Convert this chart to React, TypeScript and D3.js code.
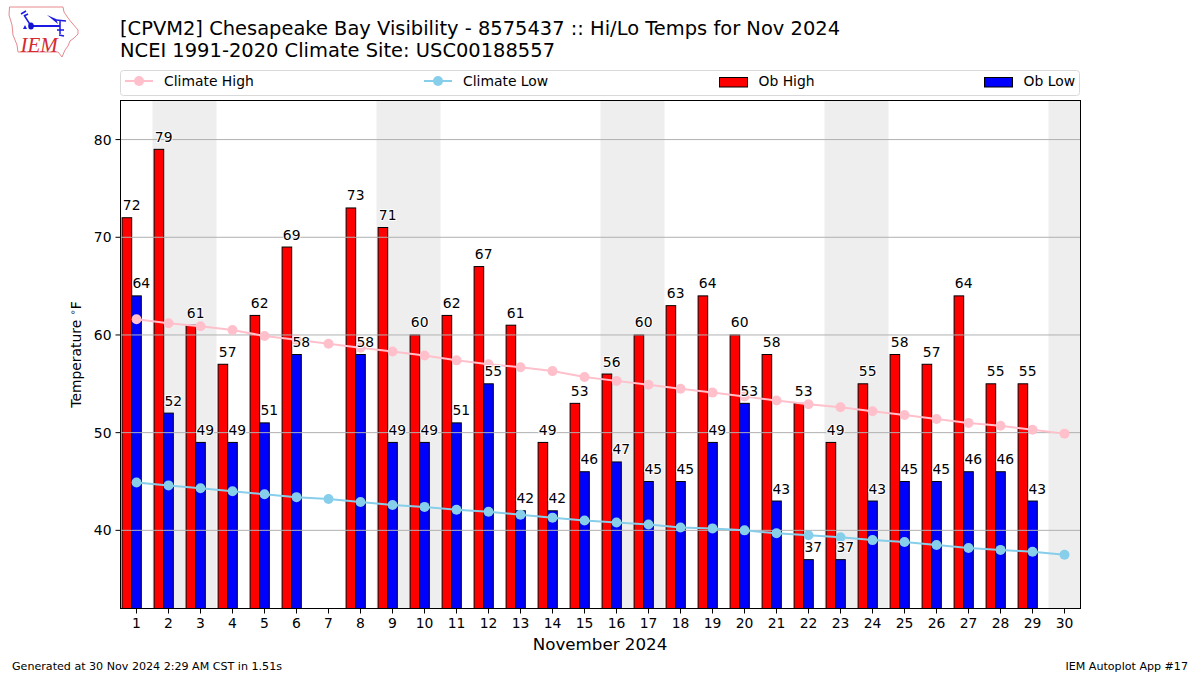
import React from "react";
import * as d3 from "d3";

const days = d3.range(1, 31);
const obHigh: (number | null)[] = [72, 79, 61, 57, 62, 69, null, 73, 71, 60, 62, 67, 61, 49, 53, 56, 60, 63, 64, 60, 58, 53, 49, 55, 58, 57, 64, 55, 55, null];
const obLow: (number | null)[] = [64, 52, 49, 49, 51, 58, null, 58, 49, 49, 51, 55, 42, 42, 46, 47, 45, 45, 49, 53, 43, 37, 37, 43, 45, 45, 46, 46, 43, null];
const climateHigh = [61.6, 61.2, 60.9, 60.5, 59.9, 59.5, 59.1, 58.7, 58.3, 57.9, 57.4, 57.0, 56.7, 56.3, 55.7, 55.3, 54.9, 54.5, 54.1, 53.7, 53.3, 52.9, 52.6, 52.2, 51.8, 51.4, 51.0, 50.7, 50.3, 49.9];
const climateLow = [44.9, 44.6, 44.3, 44.0, 43.7, 43.4, 43.2, 42.9, 42.6, 42.4, 42.1, 41.9, 41.6, 41.3, 41.0, 40.8, 40.6, 40.3, 40.2, 40.0, 39.7, 39.5, 39.3, 39.0, 38.8, 38.5, 38.2, 38.0, 37.8, 37.5];
const weekends: [number, number][] = [[1.5, 3.5], [8.5, 10.5], [15.5, 17.5], [22.5, 24.5], [29.5, 30.5]];
const yTicks = [40, 50, 60, 70, 80];
const titleLines = ["[CPVM2] Chesapeake Bay Visibility - 8575437 :: Hi/Lo Temps for Nov 2024", "NCEI 1991-2020 Climate Site: USC00188557"];

const FONT = "'DejaVu Sans', sans-serif";
const L = 120.5, R = 1080.5, T = 100.5, B = 608.5;
const x = d3.scaleLinear().domain([0.5, 30.5]).range([L, R]);
const y = d3.scaleLinear().domain([32, 84]).range([B, T]);
const W = x(1.3) - x(1);

const lineGen = d3.line<number>().x((_, i) => x(days[i])).y((d) => y(d));

function Bars({ vals, color, off }: { vals: (number | null)[]; color: string; off: number }) {
  return (
    <g>
      {vals.map((v, i) =>
        v == null ? null : (
          <rect key={i} x={x(days[i] + off) - W / 2} y={y(v)} width={W} height={B - y(v)} fill={color} stroke="#000" strokeWidth={1} />
        )
      )}
    </g>
  );
}

function Labels({ vals, off }: { vals: (number | null)[]; off: number }) {
  return (
    <g fontSize={13.9} fill="#000" textAnchor="middle" style={{ paintOrder: "stroke" }} stroke="#fff" strokeWidth={2} strokeLinejoin="round">
      {vals.map((v, i) =>
        v == null ? null : (
          <text key={i} x={x(days[i] + off)} y={y(v) - 7.5}>{v}</text>
        )
      )}
    </g>
  );
}

function Climate({ vals, color }: { vals: number[]; color: string }) {
  return (
    <g>
      <path d={lineGen(vals) || ""} fill="none" stroke={color} strokeWidth={2} />
      {vals.map((v, i) => (
        <circle key={i} cx={x(days[i])} cy={y(v)} r={5} fill={color} />
      ))}
    </g>
  );
}

function Logo() {
  return (
    <g>
      <path d="M9.5,7 L63,7 L64,12 L68,18 L72,23 L78,30 L78,34 L74,38 L70,41 L68,46 L65,50 L62,57 L58,52 L18,52 L17,45 L13,35 L12,25 L9,15 Z" fill="#fff" stroke="#e58a8f" strokeWidth={1} />
      <g stroke="#1a1ae0" fill="none" strokeWidth={1.5}>
        <path d="M31,26 L60,26" strokeWidth={2} />
        <path d="M31,26 L24,15 M21,14 L26,11 M24,16 L28,14" />
        <path d="M66,21 L56,20 M60,21 L60,34 M57,30 L64,30 M59,35 L64,36" />
      </g>
      <path d="M47,15 L56,19 L58,24 Z" fill="#1a1ae0" />
      <ellipse cx={31} cy={26} rx={2.8} ry={3.5} fill="#1212d0" />
      <path d="M23,29 L25,25 L27,29 Z" fill="#1a1ae0" />
      <text x={20.5} y={52} fontFamily="'Liberation Serif', serif" fontStyle="italic" fontSize={21} fill="#d42a30">IEM</text>
    </g>
  );
}

function LegendLine({ lx, color, label }: { lx: number; color: string; label: string }) {
  return (
    <g>
      <line x1={lx} x2={lx + 28} y1={81} y2={81} stroke={color} strokeWidth={2} />
      <circle cx={lx + 14} cy={81} r={5} fill={color} />
      <text x={lx + 39} y={86} fontSize={13.9} fill="#000">{label}</text>
    </g>
  );
}

function LegendBar({ lx, color, label }: { lx: number; color: string; label: string }) {
  return (
    <g>
      <rect x={lx} y={77.5} width={28} height={9.5} fill={color} stroke="#000" strokeWidth={1} />
      <text x={lx + 39} y={86} fontSize={13.9} fill="#000">{label}</text>
    </g>
  );
}

export default function App() {
  return (
    <svg width={1200} height={675} viewBox="0 0 1200 675" fontFamily={FONT} style={{ position: "absolute", left: 0, top: 0, background: "#fff" }}>
      <Logo />
      {titleLines.map((t, i) => (
        <text key={i} x={120} y={35 + i * 22} fontSize={19.45} textLength={i === 0 ? 720 : 435} lengthAdjust="spacing" fill="#000">{t}</text>
      ))}

      <rect x={120.5} y={70.5} width={959} height={25} rx={3} fill="#fff" stroke="#d9d9d9" strokeWidth={1} />
      <LegendLine lx={125} color="pink" label="Climate High" />
      <LegendLine lx={424} color="skyblue" label="Climate Low" />
      <LegendBar lx={719.5} color="#f00" label="Ob High" />
      <LegendBar lx={984.5} color="#00f" label="Ob Low" />

      {weekends.map(([a, b], i) => (
        <rect key={i} x={x(a)} y={T} width={x(b) - x(a)} height={B - T} fill="#eee" />
      ))}
      <Bars vals={obHigh} color="#f00" off={-0.3} />
      <Bars vals={obLow} color="#00f" off={0} />
      {yTicks.map((t) => (
        <line key={t} x1={L} x2={R} y1={y(t)} y2={y(t)} stroke="#b0b0b0" strokeWidth={1} />
      ))}
      <Climate vals={climateHigh} color="pink" />
      <Climate vals={climateLow} color="skyblue" />
      <Labels vals={obHigh} off={-0.15} />
      <Labels vals={obLow} off={0.15} />

      <rect x={L} y={T} width={R - L} height={B - T} fill="none" stroke="#000" strokeWidth={1} />
      {yTicks.map((t) => (
        <g key={t}>
          <line x1={L - 5} x2={L} y1={y(t)} y2={y(t)} stroke="#000" />
          <text x={L - 9} y={y(t) + 5} textAnchor="end" fontSize={13.9}>{t}</text>
        </g>
      ))}
      {days.map((d) => (
        <g key={d}>
          <line x1={x(d)} x2={x(d)} y1={B} y2={B + 5} stroke="#000" />
          <text x={x(d)} y={B + 19} textAnchor="middle" fontSize={13.9}>{d}</text>
        </g>
      ))}
      <text x={600} y={649.5} textAnchor="middle" fontSize={16.7}>November 2024</text>
      <text transform={`translate(81,${(T + B) / 2}) rotate(-90)`} textAnchor="middle" fontSize={13.9}>
        Temperature <tspan fontSize={9.7} dy={-5}>∘</tspan><tspan dy={5}>F</tspan>
      </text>
      <text x={12} y={670} fontSize={11.1}>Generated at 30 Nov 2024 2:29 AM CST in 1.51s</text>
      <text x={1188} y={670} textAnchor="end" fontSize={11.1}>IEM Autoplot App #17</text>
    </svg>
  );
}
